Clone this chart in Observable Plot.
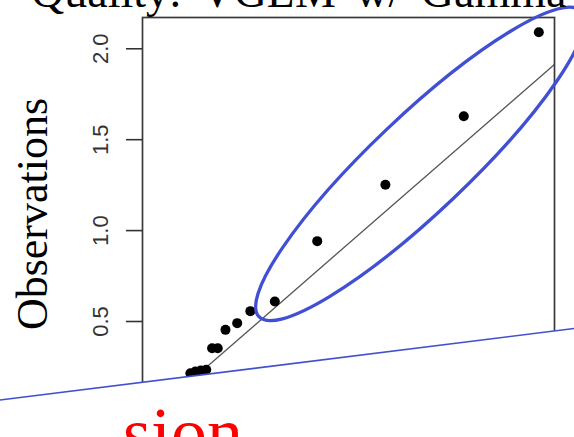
<!DOCTYPE html>
<html>
<head>
<meta charset="utf-8">
<script src="https://cdn.jsdelivr.net/npm/d3@7"></script>
<script src="https://cdn.jsdelivr.net/npm/@observablehq/plot@0.6"></script>
<style>
  html, body { margin: 0; padding: 0; background: #fff; }
  #slide { position: relative; width: 574px; height: 437px; overflow: hidden; }
  #chart { position: absolute; left: 0; top: 0; }
  #title {
    position: absolute; left: 31px; top: -31px; margin: 0;
    font: 46px/46px "Liberation Serif", "Times New Roman", serif;
    word-spacing: 8px; white-space: nowrap; color: #000;
  }
  #note {
    position: absolute; left: 123px; top: 397px; margin: 0;
    font: 72px/72px "Liberation Serif", "Times New Roman", serif;
    white-space: nowrap; color: #ff0000;
  }
</style>
</head>
<body>
<div id="slide">
  <div id="chart"></div>
  <div id="title">Quality: VGLM w/ Gamma</div>
  <div id="note">sion</div>
</div>
<script>
// Q-Q plot: theoretical gamma quantiles vs observed values (sorted)
const theoretical = [1.839, 1.480, 1.105, 0.779, 0.576, 0.459, 0.396, 0.340, 0.303, 0.276, 0.248, 0.222, 0.196, 0.172];
const observed    = [2.091, 1.629, 1.252, 0.942, 0.610, 0.557, 0.491, 0.454, 0.353, 0.353, 0.235, 0.230, 0.225, 0.215];
const yTicks = [0.5, 1.0, 1.5, 2.0];
const yLabel = "Observations";

// reference line y = intercept + slope * x
const refIntercept = 0;
const refSlope = 1;

// axis extents (R-style padded ranges)
const xDomain = [-0.057, 1.914];
const yDomain = [0.0105, 2.172];

// hand-drawn highlight ring around the upper tail
const ringCenter = [1.273, 1.364];   // data units
const ringRadii = [222, 48];         // px
const ringAngle = -43.5;             // degrees

// slide slash that cuts across the lower part of the chart (px)
const slashLeft = 400;
const slashRight = 328.5;

const ink = "#4150d2";
const points = theoretical.map((x, i) => ({x, y: observed[i]}));

const chart = Plot.plot({
  width: 574,
  height: 437,
  marginLeft: 142,
  marginRight: 20,
  marginTop: 17,
  marginBottom: 27,
  style: {fontFamily: "'Liberation Sans', Arial, sans-serif", background: "transparent"},
  x: {domain: xDomain, axis: null},
  y: {domain: yDomain, axis: null},
  marks: [
    Plot.link([xDomain], {
      x1: d => d[0], y1: d => refIntercept + refSlope * d[0],
      x2: d => d[1], y2: d => refIntercept + refSlope * d[1],
      stroke: "#555", strokeWidth: 1.3, clip: true
    }),
    Plot.dot(points, {x: "x", y: "y", r: 5, fill: "#000", stroke: "none"}),
    Plot.frame({stroke: "#3a3a3a", strokeWidth: 1.7}),
    Plot.axisY({
      ticks: yTicks, tickSize: 16, tickPadding: 19, tickRotate: -90,
      tickFormat: d => d.toFixed(1), fontSize: 22, color: "#333",
      strokeWidth: 1.6, label: null
    }),
    Plot.text([yLabel], {
      text: d => d, frameAnchor: "left", dx: -96, rotate: -90,
      textAnchor: "middle", lineAnchor: "bottom",
      fontSize: 44, fontFamily: "'Liberation Serif', 'Times New Roman', serif", fill: "#000"
    }),
    // white cover below the slash, with the slash itself
    (index, scales, values, dims) => {
      const g = d3.create("svg:g");
      g.append("polygon")
        .attr("points", `0,${slashLeft} ${dims.width},${slashRight} ${dims.width},${dims.height} 0,${dims.height}`)
        .attr("fill", "#fff");
      g.append("line")
        .attr("x1", 0).attr("y1", slashLeft)
        .attr("x2", dims.width).attr("y2", slashRight)
        .attr("stroke", ink).attr("stroke-width", 1.6);
      return g.node();
    },
    // highlight ring
    (index, scales) => {
      const cx = scales.x(ringCenter[0]);
      const cy = scales.y(ringCenter[1]);
      return d3.create("svg:ellipse")
        .attr("cx", cx).attr("cy", cy)
        .attr("rx", ringRadii[0]).attr("ry", ringRadii[1])
        .attr("transform", `rotate(${ringAngle} ${cx} ${cy})`)
        .attr("fill", "none").attr("stroke", ink).attr("stroke-width", 3.3)
        .node();
    }
  ]
});
document.getElementById("chart").append(chart);
</script>
</body>
</html>
